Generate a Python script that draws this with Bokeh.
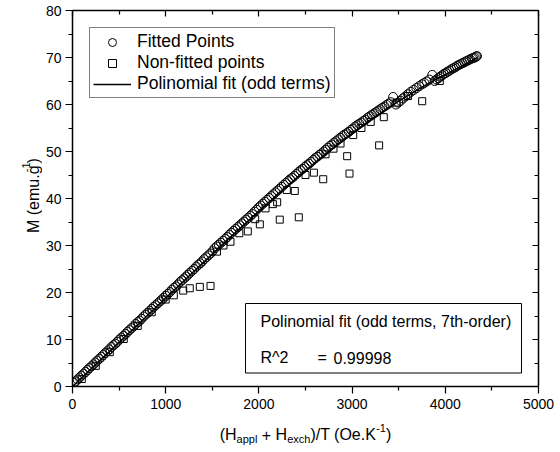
import math
from bokeh.plotting import figure
from bokeh.layouts import column, row
from bokeh.core.properties import value
from bokeh.models import (Range1d, FixedTicker, LinearAxis, Label, Legend,
                          LegendItem, BoxAnnotation)
from bokeh.embed import file_html
from bokeh.resources import INLINE

# ---------------- data ----------------
fitted_x = [15, 35, 55, 75, 95, 118, 140, 160, 180, 203, 225, 245, 265, 288, 310, 330,
            350, 373, 395, 418, 440, 460, 480, 503, 525, 548, 570, 590, 610, 633,
            655, 678, 700, 720, 740, 763, 785, 808, 830, 850, 870, 893, 915, 938,
            960, 980, 1000, 1023, 1045, 1068, 1090, 1110, 1130, 1153, 1175, 1198,
            1220, 1240, 1260, 1283, 1305, 1328, 1350, 1370, 1390, 1413, 1435, 1458,
            1480, 1503,
            1525, 1548, 1570, 1593, 1615, 1638, 1660, 1683, 1705, 1728, 1750, 1773,
            1795, 1818, 1840, 1863, 1885, 1908, 1930, 1953, 1975, 1998,
            2020, 2043, 2065, 2088, 2110, 2133, 2155, 2178, 2200, 2223, 2245, 2268,
            2290, 2313, 2335, 2358, 2380, 2403, 2425, 2448, 2470, 2493,
            2515, 2538, 2560, 2583, 2605, 2628, 2650, 2673, 2695, 2718, 2740, 2763,
            2785, 2808, 2830, 2853, 2875, 2898, 2920, 2943, 2965, 2988,
            3010, 3033, 3055, 3078, 3100, 3123, 3145, 3168, 3190, 3213, 3235, 3258,
            3280, 3303, 3325, 3348, 3370, 3393, 3415, 3440,
            3470, 3495, 3520, 3545, 3570, 3600, 3630, 3660, 3690, 3720,
            3750, 3775, 3800, 3830, 3860,
            3885, 3905, 3925, 3945, 3965, 3985,
            4005, 4025, 4045, 4065, 4085, 4105, 4125, 4145, 4165, 4185, 4205,
            4225, 4245, 4265, 4285, 4300, 4315, 4330, 4340]
fitted_y = [0.8, 1.1, 1.5, 1.9, 2.3, 2.7, 3.1, 3.5, 3.9, 4.3, 4.7, 5.1, 5.5, 5.9, 6.3, 6.7,
            7.1, 7.5, 7.9, 8.4, 8.8, 9.1, 9.5, 10.0, 10.4, 10.8, 11.2, 11.6, 12.0, 12.4,
            12.8, 13.3, 13.7, 14.0, 14.4, 14.9, 15.3, 15.7, 16.1, 16.5, 16.9, 17.3,
            17.7, 18.1, 18.5, 18.9, 19.3, 19.7, 20.1, 20.6, 21.0, 21.3, 21.7, 22.2,
            22.6, 23.0, 23.4, 23.8, 24.2, 24.6, 25.0, 25.5, 25.9, 26.2, 26.6, 27.1,
            27.5, 27.9, 28.3, 28.8,
            29.4, 29.8, 30.2, 30.6, 31.0, 31.4, 31.8, 32.3, 32.7, 33.1, 33.5, 33.9,
            34.3, 34.7, 35.1, 35.5, 35.9, 36.3, 36.7, 37.2, 37.6, 38.1,
            38.5, 38.9, 39.3, 39.7, 40.1, 40.5, 40.9, 41.3, 41.7, 42.1, 42.5, 42.9,
            43.3, 43.7, 44.1, 44.4, 44.8, 45.2, 45.6, 46.0, 46.3, 46.7,
            47.1, 47.4, 47.8, 48.2, 48.6, 48.9, 49.3, 49.6, 50.0, 50.4, 50.8, 51.2,
            51.5, 51.9, 52.2, 52.6, 52.9, 53.3, 53.6, 53.9, 54.2, 54.6,
            54.9, 55.3, 55.6, 55.9, 56.2, 56.5, 56.8, 57.2, 57.5, 57.8, 58.1, 58.4,
            58.7, 59.0, 59.3, 59.6, 59.9, 60.2, 60.5, 61.6,
            60.0, 60.4, 60.8, 61.3, 61.7, 62.2, 62.7, 63.1, 63.5, 63.9,
            64.3, 64.6, 64.9, 65.3, 66.3,
            65.0, 65.3, 65.6, 65.9, 66.2, 66.5,
            66.7, 67.0, 67.2, 67.5, 67.7, 67.9, 68.2, 68.4, 68.6, 68.8, 69.0,
            69.2, 69.4, 69.6, 69.8, 69.9, 70.0, 70.2, 70.3]

nonfit_x = [100, 250, 400, 550, 700, 850, 1000, 1087, 1188, 1258, 1366, 1481,
            1550, 1620, 1695, 1790, 1881, 1960, 2010, 2071, 2150, 2196, 2224, 2300,
            2385, 2428, 2500, 2590, 2690, 2715, 2800, 2876, 2947, 2972, 3012, 3100,
            3200, 3290, 3340, 3476, 3600, 3752, 3941]
nonfit_y = [1.6, 4.4, 7.3, 10.1, 12.9, 15.8, 18.5, 19.4, 20.4, 20.9, 21.2, 21.4,
            28.7, 30.0, 30.8, 32.6, 33.0, 35.6, 34.5, 37.9, 38.8, 39.2, 35.5, 41.8,
            41.6, 36.0, 45.0, 45.5, 44.1, 49.4, 50.6, 51.7, 49.0, 45.3, 53.5, 55.0,
            56.3, 51.3, 57.3, 60.4, 61.8, 60.7, 65.0]

fit_x = [0, 250, 500, 750, 1000, 1250, 1500, 1750, 2000, 2250, 2500, 2750, 3000,
         3250, 3500, 3750, 4000, 4250, 4340]
fit_y = [0.0, 4.7, 9.4, 14.1, 18.8, 23.5, 28.2, 32.8, 37.3, 41.7, 45.9, 50.0, 53.8,
         57.4, 60.7, 63.7, 66.4, 68.9, 69.9]

x_ticks = [0, 1000, 2000, 3000, 4000, 5000]
x_minor = [500, 1500, 2500, 3500, 4500]
y_ticks = [0, 10, 20, 30, 40, 50, 60, 70, 80]
y_minor = [5, 15, 25, 35, 45, 55, 65, 75]

legend_labels = ["Fitted Points", "Non-fitted points", "Polinomial fit (odd terms)"]
box_title = "Polinomial fit (odd terms, 7th-order)"
box_r2_name = "R^2"
box_r2_eq = "="
box_r2_value = "0.99998"

FONT = "Liberation Sans"

# ---------------- layout geometry (canvas pixels) ----------------
X0, X1, Y0, Y1 = 0, 5000, 0, 80
W_, H_ = 560, 452
YLAB_W = 42          # strip on the left holding the y title
XLAB_H = 34          # strip at the bottom holding the x title
FRAME_L, FRAME_R, FRAME_T, FRAME_B = 72, 538, 10, 386
PW, PH = W_ - YLAB_W, H_ - XLAB_H
FW, FH = FRAME_R - FRAME_L, FRAME_B - FRAME_T

p = figure(width=PW, height=PH, output_backend="svg", toolbar_location=None,
           x_range=Range1d(X0, X1), y_range=Range1d(Y0, Y1),
           min_border_left=FRAME_L - YLAB_W, min_border_right=W_ - FRAME_R,
           min_border_top=FRAME_T, min_border_bottom=PH - FRAME_B)
p.grid.visible = False
p.outline_line_color = None
p.background_fill_color = "white"
p.border_fill_color = "white"

p.add_layout(LinearAxis(), "above")
p.add_layout(LinearAxis(), "right")


def px_to_x(px):  # canvas pixel -> data x
    return X0 + (px - FRAME_L) * (X1 - X0) / FW


def py_to_y(py):  # canvas pixel -> data y
    return Y0 + (FRAME_B - py) * (Y1 - Y0) / FH


def style_axis(ax, ticks, minor, labels, inward):
    ax.ticker = FixedTicker(ticks=ticks, minor_ticks=minor)
    ax.axis_line_color = "black"
    ax.axis_line_width = 1.5
    ax.major_tick_line_color = "black"
    ax.minor_tick_line_color = "black"
    ax.major_tick_line_width = 1.2
    ax.minor_tick_line_width = 1.2
    ax.axis_label_standoff = 0
    if inward:
        ax.major_tick_in, ax.major_tick_out = 6, 0
        ax.minor_tick_in, ax.minor_tick_out = 4, 0
    else:
        ax.major_tick_in, ax.major_tick_out = 0, 7
        ax.minor_tick_in, ax.minor_tick_out = 0, 4
    if labels:
        ax.major_label_text_font = FONT
        ax.major_label_text_font_size = "14px"
        ax.major_label_text_color = "black"
    else:
        ax.major_label_text_font_size = "0px"
        ax.major_label_text_color = None
        ax.major_label_standoff = 0


style_axis(p.below[0], x_ticks, x_minor, True, False)
p.below[0].major_label_standoff = 5
style_axis(p.left[0], y_ticks, y_minor, True, False)
p.left[0].major_label_standoff = 4
style_axis(p.above[0], x_ticks, x_minor, False, True)
style_axis(p.right[0], y_ticks, y_minor, False, True)

# ---------------- glyphs ----------------
r1 = p.scatter(fitted_x, fitted_y, marker="circle", size=9, fill_color=None,
               line_color="black", line_width=1)
r2 = p.scatter(nonfit_x, nonfit_y, marker="square", size=7, fill_color=None,
               line_color="black", line_width=1)
r3 = p.line(fit_x, fit_y, line_color="black", line_width=1.5)

legend = Legend(items=[LegendItem(label=legend_labels[0], renderers=[r1]),
                       LegendItem(label=legend_labels[1], renderers=[r2]),
                       LegendItem(label=legend_labels[2], renderers=[r3])],
                location="top_left", margin=17, padding=3, spacing=0,
                glyph_width=38, glyph_height=20, label_height=20,
                label_standoff=6, label_text_font=FONT,
                label_text_font_size="17.5px", label_text_color="black",
                border_line_color="black", border_line_width=1,
                background_fill_color="white", background_fill_alpha=1)
p.add_layout(legend)

# ---------------- text box ----------------
p.add_layout(BoxAnnotation(left=px_to_x(245), right=px_to_x(521),
                           bottom=py_to_y(372.5), top=py_to_y(303),
                           fill_color="white", fill_alpha=1,
                           line_color="black", line_width=1, line_alpha=1))
for txt, px, py in [(box_title, 260, 320.5), (box_r2_name, 260, 357.4),
                    (box_r2_eq, 317, 357.4), (box_r2_value, 333, 357.4)]:
    p.add_layout(Label(x=px_to_x(px), y=py_to_y(py), text=txt, text_font=FONT,
                       text_font_size="16px", text_baseline="middle",
                       text_color="black"))

# ---------------- axis titles (with sub/superscripts) in side strips ----------------
W = {" ": .278, "(": .333, ")": .333, "H": .722, "a": .556, "p": .556, "l": .222,
     "+": .584, "e": .556, "x": .5, "c": .5, "h": .556, "/": .278, "T": .611,
     "O": .778, ".": .278, "K": .667, "-": .333, "1": .556, "M": .833, "m": .833,
     "u": .556, "g": .556}


def tw(s, size):
    return sum(W.get(c, .556) for c in s) * size


def strip(w, h):
    f = figure(width=w, height=h, output_backend="svg", toolbar_location=None,
               x_range=Range1d(0, w), y_range=Range1d(0, h),
               x_axis_type=None, y_axis_type=None, min_border=0)
    f.outline_line_color = None
    f.background_fill_color = "white"
    f.border_fill_color = "white"
    return f


MAIN, SMALL = 16, 11

# x title strip: covers canvas x 0..560, y PH..452 (data y = 452 - canvas y)
# pieces: (text, size, baseline shift in px (+ = down), advance incl. spaces)
xfig = strip(W_, XLAB_H)
xlab = [("(H", MAIN, 0, tw("(H", MAIN)),
        ("appl", SMALL, 4, tw("appl", SMALL) + tw(" ", MAIN)),
        ("+", MAIN, 0, tw("+ ", MAIN)),
        ("H", MAIN, 0, tw("H", MAIN)),
        ("exch", SMALL, 4, tw("exch", SMALL)),
        (")/T (Oe.K", MAIN, 0, tw(")/T (Oe.K", MAIN)),
        ("-1", SMALL, -7, tw("-1", SMALL)),
        (")", MAIN, 0, tw(")", MAIN))]
total = sum(a for *_, a in xlab)
sx = (FRAME_L + FRAME_R) / 2 - total / 2
base_py = 434
for t, s, dy, adv in xlab:
    xfig.text(x=[sx], y=[H_ - (base_py + dy)], text=[t], text_font=value(FONT),
              text_font_size=value(f"{s}px"), text_baseline="alphabetic",
              text_align="left", text_color="black")
    sx += adv

# y title strip: covers canvas x 0..YLAB_W, y 0..PH (data y = PH - canvas y)
yfig = strip(YLAB_W, PH)
ylab = [("M (emu.g", MAIN, 0), ("-1", SMALL, 8), (")", MAIN, 0)]
total = sum(tw(t, s) for t, s, _ in ylab)
sy = 206 + total / 2   # bottom end (canvas y)
base_px = 33
for t, s, dx in ylab:
    yfig.text(x=[base_px - dx], y=[PH - sy], text=[t], angle=math.pi / 2,
              text_font=value(FONT), text_font_size=value(f"{s}px"),
              text_baseline="alphabetic", text_align="left", text_color="black")
    sy -= tw(t, s)

layout = column(row(yfig, p, spacing=0), xfig, spacing=0)
open("out.html", "w").write(file_html(layout, INLINE))
